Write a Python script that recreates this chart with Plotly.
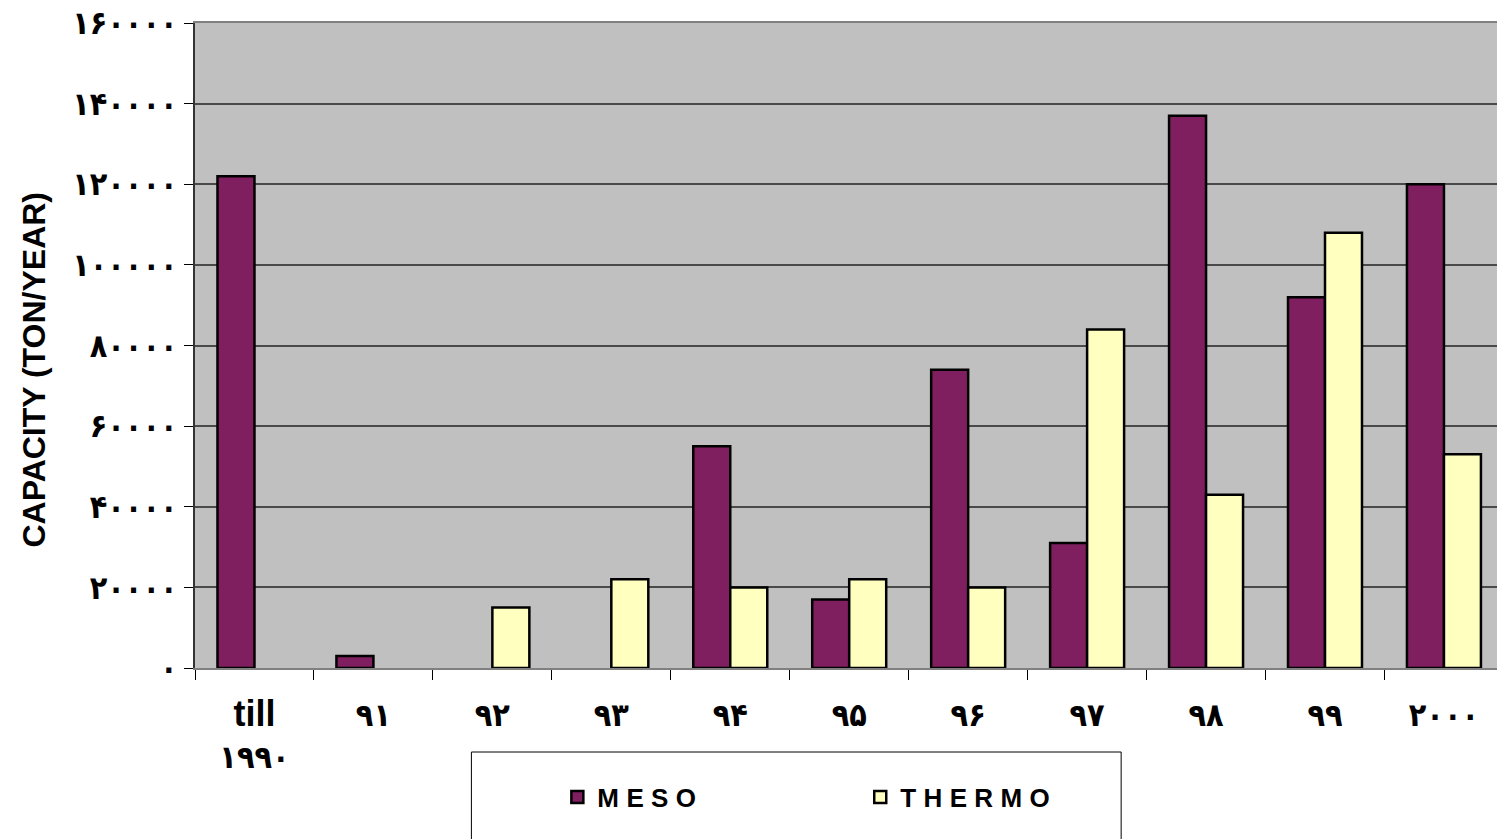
import plotly.graph_objects as go

# Installed capacity per year (ton/year)
years = ["till ۱۹۹۰", "۹۱", "۹۲", "۹۳", "۹۴", "۹۵", "۹۶", "۹۷", "۹۸", "۹۹", "۲۰۰۰"]
meso = [122000, 3000, None, None, 55000, 17000, 74000, 31000, 137000, 92000, 120000]
thermo = [None, None, 15000, 22000, 20000, 22000, 20000, 84000, 43000, 108000, 53000]

y_tick_values = [0, 20000, 40000, 60000, 80000, 100000, 120000, 140000, 160000]
y_tick_labels = ["۰", "۲۰۰۰۰", "۴۰۰۰۰", "۶۰۰۰۰", "۸۰۰۰۰",
                 "۱۰۰۰۰۰", "۱۲۰۰۰۰", "۱۴۰۰۰۰", "۱۶۰۰۰۰"]

LETTER_GAP = "\u2009\u200a"

FONT = "Liberation Sans, Arial, DejaVu Sans, sans-serif"
DIGIT_FONT = "DejaVu Sans Condensed, DejaVu Sans, sans-serif"


def spaced(text, sep):
    return sep.join(list(text))


def year_label(text):
    if text.startswith("till "):
        return ("<span style='font-family:Liberation Sans, Arial;font-size:36px'>"
                "till</span><br>" + text[5:])
    return text


MESO_COLOR = "#7F1F5F"
THERMO_COLOR = "#FFFFC0"

W, H = 1497, 839
L, R, T, B = 194.5, 0, 23, 171
pw = W - L - R
ph = H - T - B


def px_x(x):
    return (x - L) / pw


def px_y(y):
    return (H - B - y) / ph


fig = go.Figure()
fig.add_trace(go.Bar(
    x=years, y=meso, name=spaced("MESO", LETTER_GAP),
    marker=dict(color=MESO_COLOR, line=dict(color="black", width=2.5)),
    legend="legend", showlegend=True,
))
fig.add_trace(go.Bar(
    x=years, y=thermo, name=spaced("THERMO", LETTER_GAP),
    marker=dict(color=THERMO_COLOR, line=dict(color="black", width=2.5)),
    legend="legend2", showlegend=True,
))

# legend frame
fig.add_shape(
    type="rect", xref="paper", yref="paper",
    x0=px_x(471), x1=px_x(1121), y0=px_y(752), y1=px_y(850),
    line=dict(color="black", width=1), fillcolor="white", layer="below",
)

# y-axis title
fig.add_annotation(
    text="CAPACITY (TON/YEAR)", textangle=-90,
    xref="paper", yref="paper", x=px_x(33), y=px_y(370),
    xanchor="center", yanchor="middle", showarrow=False,
    font=dict(family=FONT, size=32, color="black", weight="bold"),
)

legend_font = dict(family=FONT, size=26, color="black", weight="bold")

fig.update_layout(
    width=W, height=H,
    margin=dict(l=L, r=R, t=T, b=B, autoexpand=False),
    paper_bgcolor="white",
    plot_bgcolor="#C0C0C0",
    showlegend=True,
    barmode="group",
    bargap=0.378,
    bargroupgap=0,
    font=dict(family=FONT, color="black"),
    legend=dict(
        x=px_x(557), y=px_y(797), xanchor="left", yanchor="middle",
        orientation="h", bgcolor="rgba(0,0,0,0)", borderwidth=0,
        font=legend_font, visible=True,
    ),
    legend2=dict(
        x=px_x(860), y=px_y(797), xanchor="left", yanchor="middle",
        orientation="h", bgcolor="rgba(0,0,0,0)", borderwidth=0,
        font=legend_font, visible=True,
    ),
    xaxis=dict(
        type="category",
        range=[-0.5, 10.446],
        tickvals=years,
        ticktext=[year_label(y) for y in years],
        tickfont=dict(family=DIGIT_FONT, size=32, color="black", weight="bold"),
        ticks="outside", tickson="boundaries", ticklen=10,
        tickcolor="black", tickwidth=1,
        ticklabelstandoff=18,
        showline=True, linecolor="#808080", linewidth=2, mirror=True,
        showgrid=False, zeroline=False, automargin=False,
    ),
    yaxis=dict(
        range=[0, 160000],
        tickvals=y_tick_values,
        ticktext=y_tick_labels,
        tickfont=dict(family=DIGIT_FONT, size=32, color="black", weight="bold"),
        ticks="outside", ticklen=9, tickcolor="black", tickwidth=1,
        showline=True, linecolor="#333333", linewidth=2,
        showgrid=True, gridcolor="#4a4a4a", gridwidth=1.5,
        zeroline=False, automargin=False,
    ),
)

fig.write_html("out.html")
